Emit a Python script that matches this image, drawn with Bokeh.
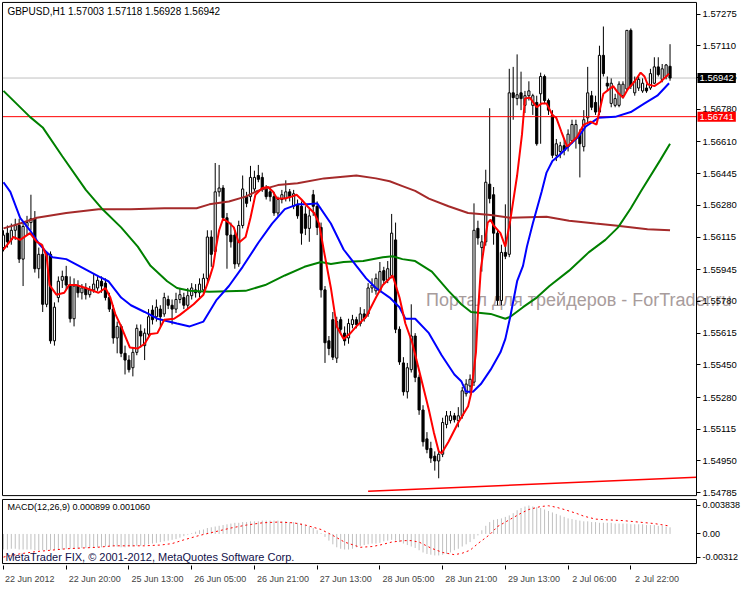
from bokeh.plotting import figure
from bokeh.models import Range1d, FixedTicker, Label, PrintfTickFormatter, BoxAnnotation
from bokeh.layouts import column
from bokeh.embed import file_html
from bokeh.resources import INLINE

# ---------------- data ----------------
caption = "GBPUSD,H1  1.57003 1.57118 1.56928 1.56942"
macd_caption = "MACD(12,26,9) 0.000899 0.001060"
copyright_text = "MetaTrader FIX, \u00a9 2001-2012, MetaQuotes Software Corp."
watermark = "\u041f\u043e\u0440\u0442\u0430\u043b \u0434\u043b\u044f \u0442\u0440\u0435\u0439\u0434\u0435\u0440\u043e\u0432 - ForTrader.ru"

open_ = [1.5606, 1.56135, 1.5610, 1.5615, 1.56175, 1.5600, 1.5617, 1.5619, 1.5621, 1.5595,
         1.56025, 1.55765, 1.56025, 1.55575, 1.5580, 1.5589, 1.5591, 1.55865, 1.5569, 1.5586,
         1.55825, 1.5585, 1.55815, 1.5584, 1.5585, 1.55885, 1.55875, 1.5580, 1.5574, 1.5559,
         1.5565, 1.5551, 1.55475, 1.55435, 1.55515, 1.55625, 1.5555, 1.5561, 1.55735, 1.5570,
         1.5574, 1.55715, 1.5579, 1.5576, 1.5574, 1.5579, 1.5580, 1.5576, 1.5581, 1.5584,
         1.55825, 1.5584, 1.5590, 1.56115, 1.5604, 1.5635, 1.5637, 1.56215, 1.56125, 1.56125,
         1.55975, 1.56175, 1.56325, 1.56325, 1.56365, 1.56435, 1.56425, 1.56365, 1.5635, 1.56325,
         1.5624, 1.5631, 1.56315, 1.5635, 1.56275, 1.56285, 1.56275, 1.56235, 1.5616, 1.56335,
         1.56275, 1.56165, 1.5584, 1.55575, 1.55685, 1.55485, 1.55685, 1.55615, 1.5559, 1.5566,
         1.55685, 1.55665, 1.55715, 1.55715, 1.5585, 1.55835, 1.55835, 1.5594, 1.5589, 1.55915,
         1.5610, 1.55635, 1.5546, 1.5531, 1.55425, 1.5560, 1.55385, 1.55215, 1.55065, 1.55015,
         1.54975, 1.5495, 1.54985, 1.5514, 1.5516, 1.55185, 1.5516, 1.55185, 1.5530, 1.5534,
         1.5536, 1.5616, 1.5606, 1.5609, 1.5639, 1.56335, 1.56135, 1.55785, 1.56035, 1.56025,
         1.56865, 1.56835, 1.56865, 1.5680, 1.5685, 1.5680, 1.56815, 1.5686, 1.5695, 1.56825,
         1.5675, 1.5654, 1.5656, 1.5659, 1.56585, 1.56615, 1.56625, 1.5665, 1.56585, 1.56735,
         1.5685, 1.56815, 1.56765, 1.5706, 1.56915, 1.5681, 1.5680, 1.5680, 1.5685, 1.56885,
         1.5719, 1.56865, 1.5689, 1.56875, 1.5689, 1.5689, 1.56915, 1.5700, 1.56935, 1.5695,
         1.57003]
high = [1.5615, 1.56175, 1.56185, 1.5621, 1.5621, 1.5619, 1.56225, 1.56335, 1.5625, 1.5606,
        1.56075, 1.5604, 1.5604, 1.55775, 1.5591, 1.5594, 1.55965, 1.5591, 1.5590, 1.5589,
        1.5587, 1.55875, 1.5586, 1.55925, 1.5591, 1.5591, 1.5590, 1.55825, 1.5576, 1.55675,
        1.5566, 1.5555, 1.5550, 1.5554, 1.5566, 1.5566, 1.5564, 1.5574, 1.5576, 1.5579,
        1.5576, 1.55825, 1.5581, 1.5579, 1.55825, 1.5585, 1.55825, 1.5585, 1.55875, 1.5587,
        1.5590, 1.55925, 1.5615, 1.5615, 1.5650, 1.5649, 1.56385, 1.5624, 1.5619, 1.5615,
        1.5620, 1.56435, 1.5635, 1.56485, 1.5646, 1.5649, 1.5645, 1.56385, 1.5637, 1.5635,
        1.56325, 1.5636, 1.5641, 1.56365, 1.5636, 1.5631, 1.5630, 1.56275, 1.5626, 1.5636,
        1.5630, 1.5619, 1.5586, 1.5560, 1.55725, 1.5570, 1.5570, 1.5565, 1.5569, 1.5571,
        1.5570, 1.5575, 1.5574, 1.55875, 1.5590, 1.55925, 1.55985, 1.5596, 1.5599, 1.56235,
        1.5619, 1.5565, 1.5549, 1.5546, 1.55765, 1.55615, 1.5540, 1.5524, 1.5510, 1.5505,
        1.5500, 1.5500, 1.55175, 1.5521, 1.5521, 1.5520, 1.5523, 1.55335, 1.55375, 1.5540,
        1.5629, 1.5620, 1.56125, 1.56465, 1.56785, 1.56375, 1.5615, 1.56075, 1.56285, 1.5699,
        1.5700, 1.57065, 1.56975, 1.56875, 1.56925, 1.5686, 1.5685, 1.5697, 1.5696, 1.56835,
        1.56775, 1.56625, 1.5661, 1.56625, 1.56675, 1.56725, 1.56725, 1.56675, 1.56775, 1.5700,
        1.56875, 1.5685, 1.5711, 1.5721, 1.5695, 1.5694, 1.5686, 1.56925, 1.56925, 1.5719,
        1.5720, 1.5695, 1.5695, 1.5694, 1.5691, 1.5699, 1.5705, 1.5705, 1.57015, 1.57015,
        1.57118]
low = [1.5604, 1.5606, 1.56075, 1.5610, 1.5598, 1.5586, 1.56125, 1.5615, 1.5593, 1.5590,
       1.55725, 1.5575, 1.5556, 1.5555, 1.55775, 1.5585, 1.5584, 1.5567, 1.5565, 1.5580,
       1.5579, 1.5579, 1.5580, 1.55825, 1.55835, 1.55825, 1.55785, 1.55725, 1.5556, 1.5551,
       1.5549, 1.5540, 1.5541, 1.5539, 1.5550, 1.5554, 1.55475, 1.5559, 1.5566, 1.55675,
       1.5565, 1.5570, 1.5574, 1.5566, 1.5572, 1.5577, 1.5574, 1.5574, 1.5579, 1.5580,
       1.5580, 1.5582, 1.55875, 1.5596, 1.56025, 1.56325, 1.5620, 1.5595, 1.5606, 1.5595,
       1.5596, 1.5616, 1.5627, 1.5630, 1.5635, 1.5640, 1.5635, 1.5631, 1.5630, 1.56225,
       1.56225, 1.5629, 1.5630, 1.5630, 1.5626, 1.5621, 1.56075, 1.56125, 1.5609, 1.56225,
       1.56125, 1.5580, 1.5546, 1.5550, 1.55475, 1.5546, 1.5561, 1.5555, 1.5556, 1.5564,
       1.5564, 1.5565, 1.55675, 1.5570, 1.55825, 1.55815, 1.55825, 1.5587, 1.55875, 1.5590,
       1.55615, 1.5545, 1.5529, 1.55275, 1.5541, 1.5536, 1.5519, 1.55025, 1.5499, 1.5494,
       1.5490, 1.5486, 1.5497, 1.5512, 1.55145, 1.5515, 1.55125, 1.5517, 1.55285, 1.5530,
       1.5534, 1.56075, 1.55935, 1.5607, 1.5629, 1.56075, 1.5576, 1.5576, 1.5600, 1.5601,
       1.56725, 1.5680, 1.56775, 1.5676, 1.56825, 1.5675, 1.5659, 1.5660, 1.5681, 1.5675,
       1.56525, 1.5651, 1.56525, 1.5654, 1.5656, 1.5660, 1.56575, 1.56425, 1.5656, 1.5671,
       1.56775, 1.5675, 1.5675, 1.5695, 1.56875, 1.5679, 1.5679, 1.5679, 1.56835, 1.56875,
       1.56885, 1.5685, 1.56875, 1.56865, 1.56865, 1.5688, 1.5691, 1.5695, 1.5692, 1.56935,
       1.56928]
close = [1.56125, 1.5609, 1.5615, 1.56175, 1.5600, 1.5617, 1.5619, 1.5621, 1.5595, 1.56025,
         1.55765, 1.56025, 1.55575, 1.5575, 1.55885, 1.5591, 1.55865, 1.5569, 1.5586, 1.55825,
         1.5585, 1.55815, 1.5584, 1.5587, 1.5589, 1.5586, 1.5580, 1.5574, 1.5559, 1.5565,
         1.5551, 1.55475, 1.55425, 1.55515, 1.5564, 1.5560, 1.55615, 1.5570, 1.55685, 1.5575,
         1.5570, 1.5580, 1.5576, 1.5574, 1.5579, 1.55815, 1.5576, 1.5581, 1.5585, 1.55825,
         1.5587, 1.5590, 1.56115, 1.56025, 1.5635, 1.5637, 1.56215, 1.56125, 1.5609, 1.55975,
         1.56175, 1.56365, 1.5629, 1.56425, 1.56425, 1.56415, 1.56365, 1.56325, 1.56325, 1.5624,
         1.5631, 1.56335, 1.5635, 1.56325, 1.5634, 1.56225, 1.56135, 1.5616, 1.56225, 1.56275,
         1.56165, 1.5584, 1.55565, 1.55535, 1.5549, 1.55675, 1.55635, 1.55575, 1.55665, 1.55685,
         1.5566, 1.55715, 1.5569, 1.5585, 1.55865, 1.5590, 1.55935, 1.5589, 1.5595, 1.56135,
         1.55635, 1.55465, 1.5531, 1.55435, 1.5560, 1.55385, 1.55215, 1.5505, 1.5501, 1.54965,
         1.5495, 1.54985, 1.5515, 1.55185, 1.55185, 1.55165, 1.55185, 1.55315, 1.5535, 1.55375,
         1.5615, 1.5611, 1.5609, 1.5640, 1.56315, 1.56135, 1.55785, 1.56035, 1.56015, 1.56865,
         1.5684, 1.56855, 1.56835, 1.5685, 1.56875, 1.5685, 1.5660, 1.5695, 1.56825, 1.56775,
         1.5654, 1.5660, 1.5659, 1.56565, 1.5665, 1.5670, 1.5670, 1.5660, 1.56725, 1.56865,
         1.5679, 1.56765, 1.5706, 1.56965, 1.5690, 1.56915, 1.56835, 1.5691, 1.5691, 1.5719,
         1.5690, 1.56925, 1.56935, 1.56915, 1.56875, 1.56965, 1.5700, 1.5696, 1.5699, 1.5701,
         1.56942]

# moving averages: (bar position, price)
ma_fast_x = [0, 2.5, 4.25, 6.75, 8.5, 9.75, 11, 11.75, 13.5, 15.5, 16.75, 18.5, 21, 24.25, 26, 27.25,
             28.5, 30, 32.25, 34.25, 36, 37.5, 39.25, 41, 43.5, 45, 48.5, 51, 52.5, 53.5, 54.25, 55,
             56, 57.5, 58.75, 60, 61.75, 63, 64.25, 66, 67.5, 68.75, 69.75, 71.75, 73.5, 74.75, 76,
             77.5, 79.25, 80.5, 81.75, 83.5, 85, 86.75, 88.5, 90, 92.5, 95, 96.75, 99.25, 101, 102.5,
             104.25, 106.75, 108.5, 109.75, 111, 111.75, 113.5, 116, 118.5, 119.25, 120.5, 121, 121.75,
             123.5, 124.25, 125, 126.75, 128, 129.25, 131, 132.25, 133, 134.25, 136, 137.25, 138.5,
             140, 141, 142.25, 143.75, 145, 146.25, 148, 149.75, 151.25, 153, 155.5, 156.75, 158,
             159.25, 161, 162.5, 163.5, 164.25, 166, 167.5, 169.75]
ma_fast_y = [1.5605, 1.56115, 1.5610, 1.56135, 1.5609, 1.56075, 1.56015, 1.55865, 1.55815, 1.55825,
             1.55865, 1.55865, 1.5585, 1.55825, 1.5585, 1.5580, 1.55715, 1.5565, 1.5554, 1.55535,
             1.5556, 1.5561, 1.55615, 1.55685, 1.5569, 1.5571, 1.55765, 1.55815, 1.5590, 1.55965,
             1.56065, 1.5615, 1.5621, 1.5619, 1.56165, 1.56085, 1.56115, 1.56215, 1.56335, 1.5637,
             1.56375, 1.5635, 1.56315, 1.56315, 1.56325, 1.56335, 1.5631, 1.56275, 1.5624, 1.56185,
             1.5604, 1.5585, 1.5565, 1.55585, 1.55615, 1.5565, 1.5570, 1.5580, 1.55865, 1.55915,
             1.5580, 1.55665, 1.55565, 1.5536, 1.55215, 1.5510, 1.5500, 1.5499, 1.5505, 1.5515,
             1.55235, 1.5530, 1.55515, 1.55715, 1.5595, 1.5619, 1.56205, 1.56175, 1.56135, 1.56065,
             1.5620, 1.56435, 1.5665, 1.56835, 1.5684, 1.5679, 1.5681, 1.5681, 1.5675, 1.56735,
             1.56665, 1.56585, 1.5661, 1.56635, 1.5670, 1.56715, 1.5670, 1.5686, 1.5690, 1.56865,
             1.5684, 1.56885, 1.56925, 1.5697, 1.5695, 1.5691, 1.5690, 1.5692, 1.56965]

ma_mid_x = [0, 1.75, 4.25, 6.75, 9.25, 11, 12.5, 16, 19.25, 24.25, 26.75, 30, 32.5, 36, 39.25, 44.25,
            47.5, 51, 54.25, 57.5, 61, 65, 68.5, 71.75, 75, 77.5, 80, 83.5, 86.75, 90, 92.5, 95, 98.5,
            101, 102.5, 105, 108.5, 111.75, 115, 116.75, 118, 119.75, 121.75, 124.25, 126.75, 128,
            129.25, 131, 132.5, 133.5, 135, 137.25, 138.5, 140, 141.75, 143.5, 146.75, 148.5, 151.75,
            156, 160, 163.5, 166.75, 169.75]
ma_mid_y = [1.5640, 1.5635, 1.56215, 1.5615, 1.56075, 1.56035, 1.5601, 1.5600, 1.55965, 1.5591,
            1.55885, 1.5580, 1.5576, 1.55725, 1.5569, 1.55665, 1.5565, 1.55675, 1.55785, 1.5586,
            1.5596, 1.56085, 1.56185, 1.5626, 1.56285, 1.56285, 1.5629, 1.56185, 1.5605, 1.55965,
            1.5590, 1.5585, 1.5580, 1.5575, 1.5569, 1.5569, 1.55615, 1.5550, 1.5540, 1.55365,
            1.5531, 1.5531, 1.5535, 1.55425, 1.55515, 1.55585, 1.5570, 1.55885, 1.55965, 1.56065,
            1.56185, 1.5635, 1.5645, 1.5651, 1.5654, 1.56575, 1.5664, 1.5669, 1.56735, 1.5674,
            1.56765, 1.5681, 1.5685, 1.56915]

ma_slow_x = [0, 6.75, 10, 15, 21, 25, 30, 34.25, 37.5, 41.75, 44.25, 47.5, 52.5, 61.75, 66.75, 71.75,
             76.75, 81, 83.5, 86.75, 91.75, 96.75, 99.25, 101.75, 105, 109.25, 113.5, 116.75, 119.25,
             124.25, 128, 129.25, 132.5, 136, 139.25, 144.25, 149.25, 153.5, 156.75, 160, 162.5,
             167.5, 170]
ma_slow_y = [1.56875, 1.5674, 1.56685, 1.56535, 1.5636, 1.56265, 1.56165, 1.56065, 1.55965, 1.55885,
             1.5585, 1.55835, 1.5583, 1.55835, 1.55865, 1.55915, 1.5596, 1.55985, 1.55975, 1.55985,
             1.5599, 1.5601, 1.56015, 1.5600, 1.5599, 1.55935, 1.55835, 1.55765, 1.55725, 1.55715,
             1.5569, 1.5570, 1.5575, 1.5580, 1.5586, 1.5594, 1.56035, 1.5610, 1.56165, 1.56265,
             1.5635, 1.56515, 1.5660]

ma_long_x = [0, 4.25, 8.5, 16, 24.25, 32.5, 41, 49.25, 52.5, 57.5, 61.75, 64.75, 70, 75, 81.75, 90, 95,
             98.5, 101.75, 105, 108.5, 113.5, 118.5, 124.25, 129.25, 138.5, 144.25, 151, 156, 164.25, 170]
ma_long_y = [1.5616, 1.56185, 1.56215, 1.5624, 1.5626, 1.5626, 1.56265, 1.56265, 1.56285, 1.5630,
             1.56325, 1.56355, 1.56385, 1.56395, 1.5642, 1.56435, 1.5642, 1.56405, 1.5638, 1.56355,
             1.56315, 1.56275, 1.5624, 1.5623, 1.56215, 1.5622, 1.5620, 1.56185, 1.56175, 1.56155,
             1.5615]

level_price = 1.56741
bid_price = 1.56942
trend_x = [93, 176.75]
trend_y = [1.54792, 1.54865]

price_ticks = [1.57275, 1.57110, 1.56945, 1.56780, 1.56610, 1.56445, 1.56280, 1.56115, 1.55945,
               1.55780, 1.55615, 1.55450, 1.55280, 1.55115, 1.54950, 1.54785]

# MACD main (histogram) per bar, and signal line samples
macd_hist = [v * 1e-4 for v in [
    -21, -21, -20, -20, -21, -21, -21, -21, -22, -22,
    -22, -22, -22, -21, -21, -21, -20, -20, -20, -20,
    -19, -19, -19, -18, -18, -18, -17, -17, -17, -17,
    -18, -18, -17, -17, -16, -16, -15, -14, -13, -12,
    -11, -10, -9, -8, -7, -5, -3, -1, 1, 3,
    5, 6, 8, 9, 10, 11, 12, 13, 14, 15,
    15, 16, 16, 17, 17, 17, 18, 18, 18, 18,
    18, 17, 17, 16, 16, 15, 14, 12, 10, 8,
    5, 1, -4, -9, -14, -18, -20, -21, -21, -20,
    -18, -16, -15, -14, -13, -13, -12, -10, -9, -8,
    -9, -11, -13, -15, -17, -19, -22, -25, -27, -28,
    -29, -29, -28, -27, -25, -22, -20, -17, -14, -11,
    -7, -2, 5, 11, 16, 19, 20, 21, 23, 25,
    28, 32, 35, 37, 38.38, 37, 36, 35, 33, 31,
    29, 27, 25, 23, 21, 20, 19, 18, 17, 17,
    16, 16, 15, 15, 15, 15, 14, 14, 14, 14,
    13, 13, 13, 13, 12, 12, 12, 11, 11, 10,
    8.99]]
signal_x = [0, 4, 8, 12, 16, 20, 24, 28, 32, 36, 40, 43, 46, 48, 50, 54, 58, 62, 66, 70, 74, 77, 81,
            84, 87, 91, 94, 96, 99, 102, 104, 106, 109, 112, 115, 117, 119, 121, 123, 124, 126, 129,
            132, 134, 137, 139, 141, 143, 146, 148, 151, 154, 158, 162, 166, 170]
signal_y = [v * 1e-4 for v in [
    -31.2, -27, -24, -22, -20, -19, -18, -16, -16, -16, -15, -13, -8, -5, -2, 3, 8, 12, 15, 16, 15,
    12, 6, -2, -11, -18, -17, -15, -11, -9, -9, -11, -19, -25, -28, -26, -22, -13, -5, -1, 10, 19,
    28, 33, 37, 38, 36, 33, 28, 24, 20, 19, 18, 16, 14, 10.6]]
macd_ticks = [0.003838, 0.0, -0.00312]
macd_tick_labels = ["0.003838", "0.00", "-0.00312"]

time_tick_bars = [0, 16, 32, 48, 64, 80, 96, 112, 128, 144, 160]
time_tick_labels = ["22 Jun 2012", "22 Jun 20:00", "25 Jun 13:00", "26 Jun 05:00", "26 Jun 21:00",
                    "27 Jun 13:00", "28 Jun 05:00", "28 Jun 21:00", "29 Jun 13:00", "2 Jul 06:00",
                    "2 Jul 22:00"]

# ---------------- geometry & style ----------------
FONT = "Liberation Sans"
FRAME_W = 740                      # frame covers price area and the scale strip
X0, X1 = -0.25, 176.75             # price area (bars)
bar_px = 694.0 / (X1 - X0)
XS = X0 - 1.0 / bar_px
XE = XS + FRAME_W / bar_px

# price panel: box edges and frame limits (vertical)
P_FTOP, P_TOP, P_BOT, P_FBOT = 1.573453, 1.573352, 1.547699, 1.547548
# MACD panel
M_FTOP, M_TOP, M_BOT, M_FBOT = 0.0047815, 0.0046505, -0.0039955, -0.0042575

x_range = Range1d(XS, XE)
bars = list(range(len(close)))


def style_yaxis(ax, size):
    ax.fixed_location = X1
    ax.major_tick_out = 4
    ax.major_tick_in = 0
    ax.minor_tick_line_color = None
    ax.major_tick_line_color = "black"
    ax.major_label_standoff = 2
    ax.major_label_text_font = FONT
    ax.major_label_text_font_size = size
    ax.major_label_text_color = "black"
    ax.axis_line_color = None


p = figure(x_range=x_range, y_range=Range1d(P_FBOT, P_FTOP),
           frame_width=FRAME_W, frame_height=498,
           x_axis_location=None, y_axis_location="right",
           output_backend="svg", toolbar_location=None,
           min_border_left=1, min_border_top=0, min_border_bottom=0, min_border_right=0)
p.grid.visible = False
p.outline_line_color = None
p.background_fill_color = "white"
p.border_fill_color = "white"

ya = p.yaxis[0]
ya.ticker = FixedTicker(ticks=price_ticks)
ya.formatter = PrintfTickFormatter(format="%.5f")
style_yaxis(ya, "9.5px")

# watermark under the data
p.add_layout(Label(x=107.75, y=1.55786, text=watermark, text_font=FONT, text_font_size="18px",
                   text_color="#a89c9c", text_baseline="middle", level="underlay"))

# level lines
p.segment(x0=[X0], y0=[bid_price], x1=[X1], y1=[bid_price], line_color="#c0c0c0", line_width=1)

# candles
inc = [i for i in bars if close[i] >= open_[i]]
dec = [i for i in bars if close[i] < open_[i]]
p.segment(x0=bars, y0=low, x1=bars, y1=high, line_color="black", line_width=1)
p.vbar(x=inc, width=0.55, top=[close[i] for i in inc], bottom=[open_[i] for i in inc],
       fill_color="white", line_color="black", line_width=1)
p.vbar(x=dec, width=0.55, top=[open_[i] for i in dec], bottom=[close[i] for i in dec],
       fill_color="black", line_color="black", line_width=1)

p.segment(x0=[X0], y0=[level_price], x1=[X1], y1=[level_price], line_color="#ff0000", line_width=1)

# moving averages
p.line(ma_long_x, ma_long_y, line_color="#a52a2a", line_width=2)
p.line(ma_slow_x, ma_slow_y, line_color="#008000", line_width=2)
p.line(ma_mid_x, ma_mid_y, line_color="#0000ff", line_width=2)
p.line(ma_fast_x, ma_fast_y, line_color="#ff0000", line_width=2)
p.line(trend_x, trend_y, line_color="#ff0000", line_width=1.5)

# panel border
p.add_layout(BoxAnnotation(left=X0, right=X1, bottom=P_BOT, top=P_TOP,
                           fill_color=None, line_color="black", line_width=1, line_alpha=1.0))

# texts
p.add_layout(Label(x=1.0, y=1.5729, text=caption, text_font=FONT, text_font_size="10px",
                   text_color="black", text_baseline="middle"))
p.add_layout(Label(x=X1, y=bid_price, x_offset=1, text="%.5f" % bid_price, text_font=FONT,
                   text_font_size="9.5px", text_color="white", text_baseline="middle",
                   background_fill_color="black", padding=2))
p.add_layout(Label(x=X1, y=level_price, x_offset=1, text="%.5f" % level_price, text_font=FONT,
                   text_font_size="9.5px", text_color="white", text_baseline="middle",
                   background_fill_color="#ff0000", padding=2))

# ---------------- MACD panel ----------------
q = figure(x_range=x_range, y_range=Range1d(M_FBOT, M_FTOP),
           frame_width=FRAME_W, frame_height=67, y_axis_location="right",
           output_backend="svg", toolbar_location=None,
           min_border_left=1, min_border_top=0, min_border_right=0, min_border_bottom=0)
q.grid.visible = False
q.outline_line_color = None
q.background_fill_color = "white"
q.border_fill_color = "white"

q.segment(x0=bars, y0=[0.0] * len(bars), x1=bars, y1=macd_hist, line_color="#c0c0c0", line_width=1)
q.line(signal_x, signal_y, line_color="#ff0000", line_width=1, line_dash="2 3")

qa = q.yaxis[0]
qa.ticker = FixedTicker(ticks=macd_ticks)
qa.major_label_overrides = {t: s for t, s in zip(macd_ticks, macd_tick_labels)}
style_yaxis(qa, "9px")

q.add_layout(BoxAnnotation(left=X0, right=X1, bottom=M_BOT, top=M_TOP,
                           fill_color=None, line_color="black", line_width=1, line_alpha=1.0))

# time axis: tick marks at bars, labels start right of each mark
label_pos = [b + (1 + 0.5 * 4.6 * len(s)) / bar_px for b, s in zip(time_tick_bars, time_tick_labels)]
xa = q.xaxis[0]
xa.ticker = FixedTicker(ticks=label_pos, minor_ticks=time_tick_bars)
xa.major_label_overrides = {pos: s for pos, s in zip(label_pos, time_tick_labels)}
xa.major_tick_line_color = None
xa.minor_tick_out = 4
xa.minor_tick_in = 0
xa.minor_tick_line_color = "black"
xa.major_label_standoff = 2
xa.major_label_text_font = FONT
xa.major_label_text_font_size = "9px"
xa.axis_line_color = None

q.add_layout(Label(x=1.0, y=0.0036, text=macd_caption, text_font=FONT, text_font_size="9px",
                   text_color="black", text_baseline="middle"))
q.add_layout(Label(x=0.5, y=-0.00308, text=copyright_text, text_font=FONT, text_font_size="11px",
                   text_color="#10104a", text_baseline="middle"))

layout = column(p, q, spacing=0)
open("out.html", "w").write(file_html(layout, INLINE))
